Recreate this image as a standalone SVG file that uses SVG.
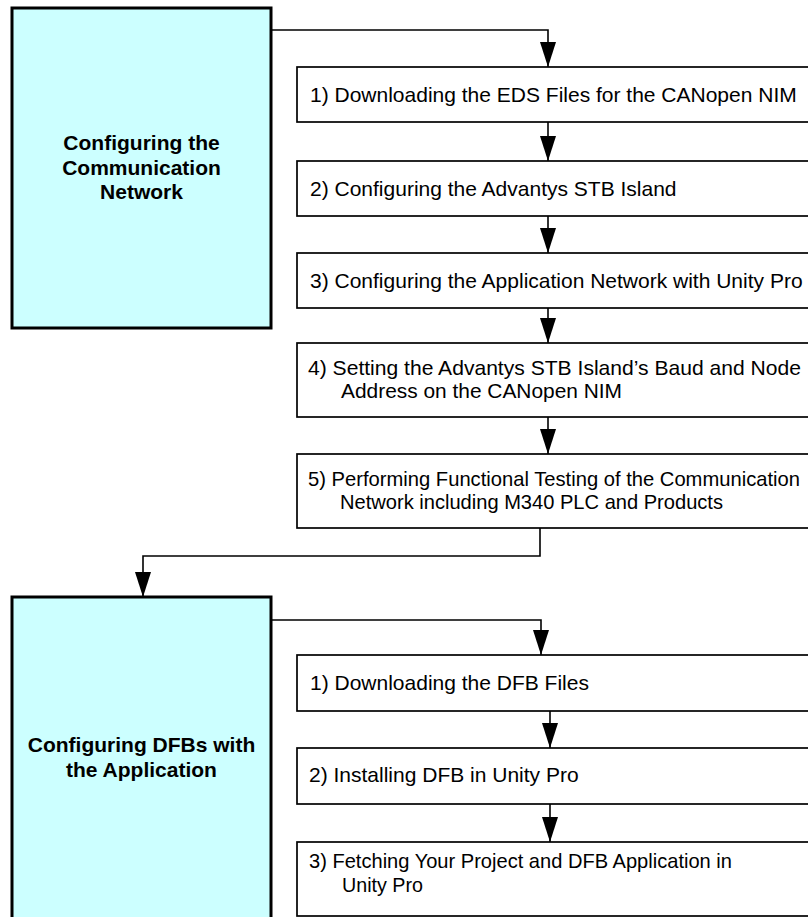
<svg xmlns="http://www.w3.org/2000/svg" width="808" height="917" viewBox="0 0 808 917">
<style>
.phase{fill:#CCFFFF;stroke:#000;stroke-width:3}
.step{fill:#fff;stroke:#000;stroke-width:1.7}
.pt{font-family:"Liberation Sans",Arial,sans-serif;font-size:21px;font-weight:bold;text-anchor:middle;fill:#000}
.st{font-family:"Liberation Sans",Arial,sans-serif;font-size:21px;fill:#000}
.c{fill:none;stroke:#000;stroke-width:1.6}
</style>
<defs>
<marker id="ah" markerUnits="userSpaceOnUse" markerWidth="25" markerHeight="16" viewBox="0 0 25 16" refX="25" refY="8" orient="auto">
<path d="M0,0 L25,8 L0,16 z" fill="#000"/>
</marker>
</defs>
<rect width="808" height="917" fill="#fff"/>
<g id="connectors">
<path class="c" d="M271,30 H548 V67" marker-end="url(#ah)"/>
<path class="c" d="M548,122 V161" marker-end="url(#ah)"/>
<path class="c" d="M548,216 V253" marker-end="url(#ah)"/>
<path class="c" d="M548,308 V343" marker-end="url(#ah)"/>
<path class="c" d="M548,417 V454" marker-end="url(#ah)"/>
<path class="c" d="M540,528 V556 H143 V597" marker-end="url(#ah)"/>
<path class="c" d="M271,620 H541 V655" marker-end="url(#ah)"/>
<path class="c" d="M550,711 V748" marker-end="url(#ah)"/>
<path class="c" d="M550,804 V842" marker-end="url(#ah)"/>
</g>
<g id="phase1">
<rect class="phase" x="12" y="8" width="259" height="320"/>
<text class="pt" x="141.5" y="150">Configuring the</text>
<text class="pt" x="141.5" y="174.5">Communication</text>
<text class="pt" x="141.5" y="199">Network</text>
</g>
<g id="step1-1">
<rect class="step" x="297" y="67" width="520" height="55"/>
<text class="st" x="310" y="102">1) Downloading the EDS Files for the CANopen NIM</text>
</g>
<g id="step1-2">
<rect class="step" x="297" y="161" width="520" height="55"/>
<text class="st" x="310" y="196">2) Configuring the Advantys STB Island</text>
</g>
<g id="step1-3">
<rect class="step" x="297" y="253" width="520" height="55"/>
<text class="st" x="310" y="288">3) Configuring the Application Network with Unity Pro</text>
</g>
<g id="step1-4">
<rect class="step" x="297" y="343" width="520" height="74"/>
<text class="st" x="308" y="375" textLength="493" lengthAdjust="spacingAndGlyphs">4) Setting the Advantys STB Island’s Baud and Node</text>
<text class="st" x="341" y="398" textLength="281" lengthAdjust="spacingAndGlyphs">Address on the CANopen NIM</text>
</g>
<g id="step1-5">
<rect class="step" x="297" y="454" width="520" height="74"/>
<text class="st" x="308" y="486" textLength="492" lengthAdjust="spacingAndGlyphs">5) Performing Functional Testing of the Communication</text>
<text class="st" x="340" y="509" textLength="383" lengthAdjust="spacingAndGlyphs">Network including M340 PLC and Products</text>
</g>
<g id="phase2">
<rect class="phase" x="12" y="597" width="259" height="330"/>
<text class="pt" x="141.5" y="752">Configuring DFBs with</text>
<text class="pt" x="141.5" y="777">the Application</text>
</g>
<g id="step2-1">
<rect class="step" x="297" y="655" width="520" height="56"/>
<text class="st" x="310" y="690">1) Downloading the DFB Files</text>
</g>
<g id="step2-2">
<rect class="step" x="297" y="748" width="520" height="56"/>
<text class="st" x="309" y="782">2) Installing DFB in Unity Pro</text>
</g>
<g id="step2-3">
<rect class="step" x="297" y="842" width="520" height="74"/>
<text class="st" x="309" y="868" textLength="423" lengthAdjust="spacingAndGlyphs">3) Fetching Your Project and DFB Application in</text>
<text class="st" x="342" y="892" textLength="81" lengthAdjust="spacingAndGlyphs">Unity Pro</text>
</g>
</svg>
